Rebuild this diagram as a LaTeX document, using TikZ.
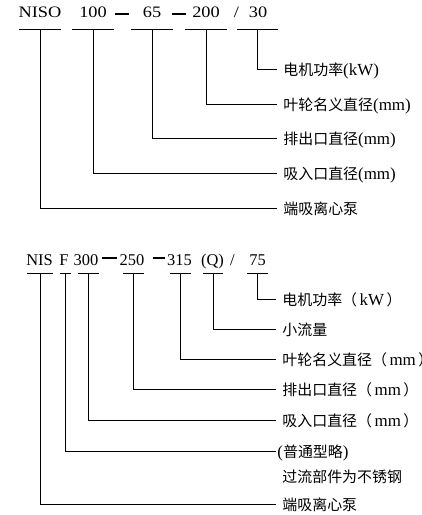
\documentclass[tikz,border=0pt]{standalone}
\usepackage{fontspec}
\setmainfont{Liberation Serif}
\newfontfamily\cjk{Noto Sans CJK SC}
\usetikzlibrary{positioning}
\newcommand{\la}[1]{{\rmfamily\fontsize{17}{20}\selectfont #1}}
\newcommand{\wide}[1]{\scalebox{1.15}[1]{#1}}
\tikzset{
	codeA/.style={inner sep=0pt, anchor=base, font=\fontsize{16}{19}\selectfont},
	codeB/.style={inner sep=0pt, anchor=base, font=\fontsize{16.5}{19}\selectfont},
	bardash/.style={fill=black, draw=none, inner sep=0pt, minimum height=2.3bp},
	lab/.style={anchor=west, inner xsep=6bp, inner ysep=0pt, text height=13bp, text depth=0bp, font=\fontsize{15}{18}\selectfont\cjk},
}
\begin{document}
\begin{tikzpicture}[x=1bp, y=-1bp, line width=0.9bp]
		\useasboundingbox (0,0) rectangle (421,515);
		\foreach \t/\x [count=\i] in {NISO/40, 100/93, 65/152, 200/206, 30/258} {
			\node [codeA] (a\i) at (\x,18) {\wide{\t}};
		}
		\node [bardash, minimum width=14bp] (da1) at (122,13.8) {};
		\node [bardash, minimum width=14bp] (da2) at (179,13.8) {};
		\node [codeA] (sa) at (236.5,18) {\wide{/}};
		\foreach \x/\w [count=\i] in {40/21, 93/21, 152/21, 206/21, 257.5/20.5} {
			\draw (\x-\w,29) -- (\x+\w,29);
			\coordinate (ua\i) at (\x,29);
		}
		\node [lab] (la1) at (277,208) {端吸离心泵};
		\node [lab] (la2) at (277,173) {吸入口直径\la{(mm)}};
		\node [lab] (la3) at (277,138) {排出口直径\la{(mm)}};
		\node [lab] (la4) at (277,104) {叶轮名义直径\la{(mm)}};
		\node [lab] (la5) at (277,69) {电机功率\la{(kW)}};
		\foreach \i in {1,...,5} {
			\draw (ua\i) |- (la\i.west);
		}
		\foreach \t/\x [count=\i] in {NIS/39.5, F/64, 300/86, 250/132, 315/179.5, (Q)/212.5, 75/257.5} {
			\node [codeB] (b\i) at (\x,265) {\t};
		}
		\node [bardash, minimum width=15bp] (db1) at (109.5,258.3) {};
		\node [bardash, minimum width=12bp] (db2) at (159,258.3) {};
		\node [codeB] (sb) at (232.5,265) {/};
		\foreach \x/\w [count=\i] in {40/13, 65.5/5.5, 88.5/10.5, 133.5/10.5, 180.5/10.5, 213/10, 257.5/10.5} {
			\draw (\x-\w,273) -- (\x+\w,273);
			\coordinate (ub\i) at (\x,273);
		}
		\node [lab] (lb1) at (276,504) {端吸离心泵};
		\node [lab, inner xsep=1bp] (lb2) at (276,451) {\la{(}普通型略\la{)}};
		\node [lab, below right=11bp and 0bp of lb2.south west] (lb2x) {过流部件为不锈钢};
		\node [lab] (lb3) at (276,420) {吸入口直径（\,\la{mm}\,）};
		\node [lab] (lb4) at (276,389) {排出口直径（\,\la{mm}\,）};
		\node [lab] (lb5) at (276,359) {叶轮名义直径（\,\la{mm}\,）};
		\node [lab] (lb6) at (276,329) {小流量};
		\node [lab] (lb7) at (276,299) {电机功率（\,\la{kW}\,）};
		\foreach \i in {1,...,7} {
			\draw (ub\i) |- (lb\i.west);
		}
\end{tikzpicture}
\end{document}
